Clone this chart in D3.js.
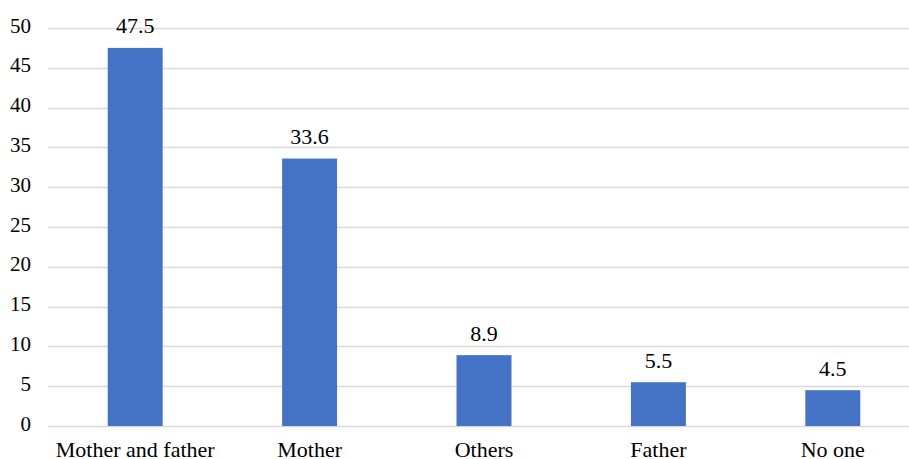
<!DOCTYPE html>
<html>
<head>
<meta charset="utf-8">
<script src="https://cdn.jsdelivr.net/npm/d3@7"></script>
<style>
  html, body { margin: 0; padding: 0; background: #fff; }
  svg { display: block; }
</style>
</head>
<body>
<svg id="chart" width="909" height="459"></svg>
<script>
const categories = ["Mother and father", "Mother", "Others", "Father", "No one"];
const values = [47.5, 33.6, 8.9, 5.5, 4.5];
const yTicks = [0, 5, 10, 15, 20, 25, 30, 35, 40, 45, 50];

const FONT = "'Liberation Serif', 'Times New Roman', Times, 'DejaVu Serif', serif";
const svg = d3.select("#chart").attr("font-family", FONT);
const mLeft = 48, mRight = 920, mTop = 28, mBottom = 426;

const x = d3.scaleBand().domain(categories).range([mLeft, mRight])
  .paddingInner(0.685).paddingOuter(0.3425);
const y = d3.scaleLinear().domain([0, 50]).range([mBottom, mTop]);

// gridlines
svg.append("g").selectAll("line").data(yTicks).join("line")
  .attr("x1", mLeft).attr("x2", mRight)
  .attr("y1", d => Math.round(y(d)) + 0.5).attr("y2", d => Math.round(y(d)) + 0.5)
  .attr("stroke", "#d9d9d9").attr("stroke-width", 1.3);

// y tick labels
svg.append("g").selectAll("text").data(yTicks).join("text")
  .attr("font-family", FONT).attr("fill", "#000")
  .attr("x", 31).attr("y", d => y(d) + 4.5)
  .attr("text-anchor", "end").attr("font-size", 21)
  .text(d => d);

// bars
svg.append("g").selectAll("rect").data(values).join("rect")
  .attr("x", (d, i) => x(categories[i]))
  .attr("width", x.bandwidth())
  .attr("y", d => y(d))
  .attr("height", d => mBottom - y(d))
  .attr("fill", "#4472C4");

// value labels
svg.append("g").selectAll("text").data(values).join("text")
  .attr("font-family", FONT).attr("fill", "#000")
  .attr("x", (d, i) => x(categories[i]) + x.bandwidth() / 2)
  .attr("y", d => y(d) - 14.5)
  .attr("text-anchor", "middle").attr("font-size", 22)
  .text(d => d.toFixed(1));

// category labels
svg.append("g").selectAll("text").data(categories).join("text")
  .attr("font-family", FONT).attr("fill", "#000")
  .attr("x", d => x(d) + x.bandwidth() / 2)
  .attr("y", mBottom + 31)
  .attr("text-anchor", "middle").attr("font-size", 22)
  .text(d => d);
</script>
</body>
</html>
